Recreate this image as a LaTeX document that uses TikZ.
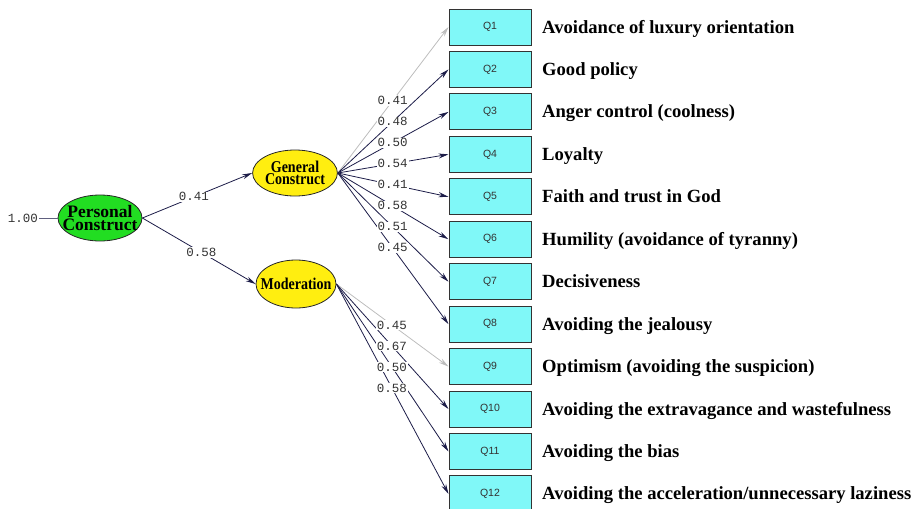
\documentclass[tikz,border=0pt]{standalone}
\usepackage{fontspec}
\setmainfont{Liberation Serif}
\newfontfamily\lsans{Liberation Sans}
\newfontfamily\lmono{Liberation Mono}
\newfontfamily\cserif[FakeStretch=0.85]{Liberation Serif}
\usetikzlibrary{arrows.meta,shapes.geometric}
\definecolor{boxfill}{HTML}{80F8F8}
\definecolor{latgreen}{HTML}{22DD22}
\definecolor{latyellow}{HTML}{FFEE10}
\definecolor{pathdark}{HTML}{1C1C48}
\definecolor{pathgray}{HTML}{BDBDBD}
\tikzset{
  item/.style={draw=black!80, line width=1pt, fill=boxfill, minimum width=82pt,
    minimum height=36pt, inner sep=0pt, font=\lsans\fontsize{10.5}{12}\selectfont, text=black!80},
  itemtext/.style={anchor=base west, inner sep=0pt, font=\bfseries\fontsize{18.6}{20}\selectfont},
  latent/.style={ellipse, draw=black!85, line width=0.8pt, inner sep=0pt, align=center},
  lattext/.style={font=\cserif\bfseries\fontsize{16.5}{12.5}\selectfont},
  coef/.style={fill=white, inner sep=1pt, font=\lmono\fontsize{12.5}{13}\selectfont, text=black!80},
  load/.style={draw=pathdark, line width=0.8pt, -{Stealth[length=10pt,width=5pt]}},
  weak/.style={draw=pathgray, line width=0.8pt, -{Stealth[length=10pt,width=5pt]}}
}
\begin{document}
\begin{tikzpicture}[x=1pt,y=-1pt]
\useasboundingbox (0,0) rectangle (922,509);

% latent variables
\node[latent, fill=latgreen, minimum width=84pt, minimum height=46pt, inner xsep=-10pt,
  font=\bfseries\fontsize{17.5}{12.5}\selectfont] (pc) at (100,218) {Personal\\Construct};
\node[latent, lattext, fill=latyellow, minimum width=80pt, minimum height=46pt]
  (gc) at (295,173) {General\\Construct};
\node[latent, lattext, fill=latyellow, minimum width=80pt, minimum height=48pt, inner xsep=-8pt]
  (mo) at (296,284) {Moderation};

% variance of the second-order factor
\node[coef, fill=none] (var) at (23,218) {1.00};
\draw[pathdark!70, line width=0.8pt] (var.east) -- (pc.west);

% observed items
\foreach \i/\txt in {
  1/{Avoidance of luxury orientation},
  2/{Good policy},
  3/{Anger control (coolness)},
  4/{Loyalty},
  5/{Faith and trust in God},
  6/{Humility (avoidance of tyranny)},
  7/{Decisiveness},
  8/{Avoiding the jealousy},
  9/{Optimism (avoiding the suspicion)},
  10/{Avoiding the extravagance and wastefulness},
  11/{Avoiding the bias},
  12/{Avoiding the acceleration/unnecessary laziness}}{
  \pgfmathsetmacro{\yy}{27+(\i-1)*42.45}
  \node[item] (q\i) at (490,\yy) {Q\i};
  \node[itemtext] (t\i) at (542,\yy+6) {\txt};
}

% paths from the second-order factor
\draw[load] (pc.east) -- (gc.west);
\draw[load] (pc.east) -- (mo.west);

% loadings
\draw[weak] (gc.east) -- (q1.west);
\foreach \i in {2,...,8}{\draw[load] (gc.east) -- (q\i.west);}
\draw[weak] (mo.east) -- (q9.west);
\foreach \i in {10,11,12}{\draw[load] (mo.east) -- (q\i.west);}

% coefficient labels on top of the paths
\path (pc.east) -- (gc.west) node[coef, pos=0.47] (c0) {0.41};
\path (pc.east) -- (mo.west) node[coef, pos=0.52] (c00) {0.58};
\foreach \i/\v in {1/0.41,2/0.48,3/0.50,4/0.54,5/0.41,6/0.58,7/0.51,8/0.45}{
  \path (gc.east) -- (q\i.west) node[coef, pos=0.495] (c\i) {\v};
}
\foreach \i/\v in {9/0.45,10/0.67,11/0.50,12/0.58}{
  \path (mo.east) -- (q\i.west) node[coef, pos=0.495] (c\i) {\v};
}
\end{tikzpicture}
\end{document}
